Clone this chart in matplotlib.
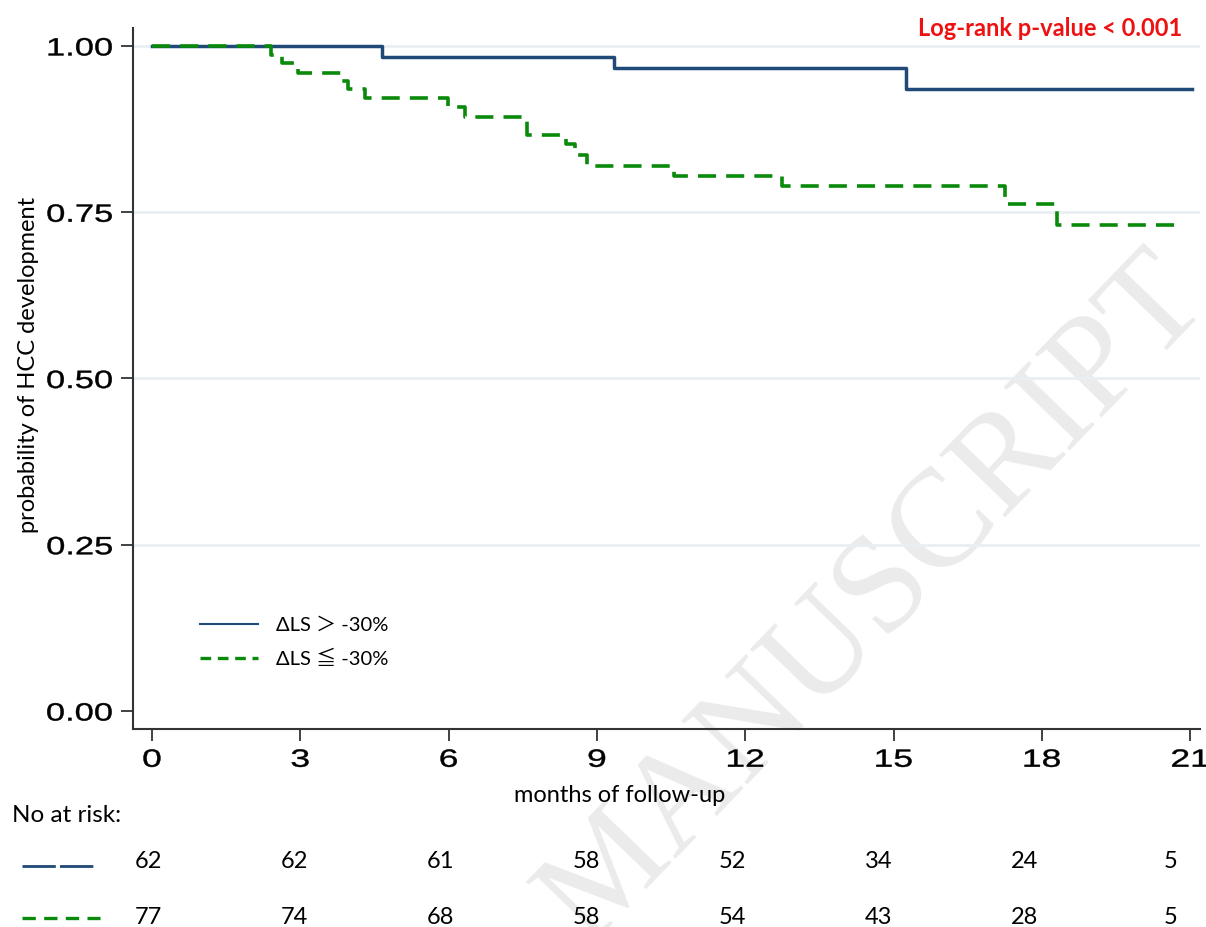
import matplotlib
matplotlib.use("Agg")
import matplotlib.pyplot as plt
import matplotlib.transforms as mtransforms
from matplotlib.lines import Line2D
from matplotlib.patheffects import AbstractPathEffect
from matplotlib.transforms import Affine2D

# ---- data ----
blue_times = [0, 4.65, 9.35, 15.25]
blue_surv = [1.0, 0.984, 0.967, 0.935]
blue_end = 21.03

green_times = [0, 2.40, 2.62, 2.96, 3.84, 3.97, 4.31, 5.99, 6.33, 7.59,
               8.37, 8.55, 8.80, 10.55, 12.74, 17.26, 18.30]
green_surv = [1.0, 0.987, 0.974, 0.960, 0.948, 0.935, 0.921, 0.908, 0.893,
              0.866, 0.852, 0.836, 0.820, 0.805, 0.789, 0.763, 0.731]
green_end = 20.73

x_ticks = [0, 3, 6, 9, 12, 15, 18, 21]
y_ticks = [0.00, 0.25, 0.50, 0.75, 1.00]
y_tick_labels = ["0.00", "0.25", "0.50", "0.75", "1.00"]
risk_blue = [62, 62, 61, 58, 52, 34, 24, 5]
risk_green = [77, 74, 68, 58, 54, 43, 28, 5]

label_blue = "ΔLS ＞ -30%"
label_green = "ΔLS ≦ -30%"

BLUE = "#1f4a78"
GREEN = "#0a8a0a"
FONT_C = ["Lato", "Noto Sans CJK SC", "DejaVu Sans"]


class StretchX(AbstractPathEffect):
    """Draw text horizontally widened about an anchor edge, slightly emboldened."""
    def __init__(self, sx, anchor="center", stroke=0.3):
        super().__init__()
        self.sx = sx
        self.anchor = anchor
        self.stroke = stroke

    def draw_path(self, renderer, gc, tpath, affine, rgbFace=None):
        ext = tpath.get_extents(affine)
        if self.anchor == "right":
            x0 = ext.x1
        elif self.anchor == "left":
            x0 = ext.x0
        else:
            x0 = 0.5 * (ext.x0 + ext.x1)
        a = affine + Affine2D().translate(-x0, 0).scale(self.sx, 1).translate(x0, 0)
        gc0 = renderer.new_gc()
        gc0.copy_properties(gc)
        if rgbFace is not None:
            gc0.set_foreground(rgbFace)
        gc0.set_linewidth(self.stroke)
        renderer.draw_path(gc0, tpath, a, rgbFace)
        gc0.restore()


fig = plt.figure(figsize=(12.06, 9.27), dpi=100)
fig.patch.set_facecolor("white")

# watermark (behind everything)
fig.text(875/1206, 1-600/927, "MANUSCRIPT", fontsize=100, family="Liberation Serif",
         color="#ebebeb", rotation=46, ha="center", va="center", zorder=-5)

ax = fig.add_axes([133/1206, 1-729/927, (1200-133)/1206, (729-28)/927])
ax.patch.set_visible(False)

# grid
for yv in y_ticks[1:]:
    ax.axhline(yv, color="#e8eff2", lw=2.0, zorder=1)

bx = blue_times + [blue_end]
by = blue_surv + [blue_surv[-1]]
gx = green_times + [green_end]
gy = green_surv + [green_surv[-1]]
ax.step(bx, by, where="post", color=BLUE, lw=2.5, zorder=3)
ax.step(gx, gy, where="post", color=GREEN, lw=2.6, ls=(0, (5, 2.8)), zorder=4)

ax.set_xlim(-0.384, 21.2)
ax.set_ylim(-0.027, 1.027)
ax.set_xticks(x_ticks)
ax.set_xticklabels([str(t) for t in x_ticks], fontsize=18, family="Liberation Sans")
ax.set_yticks(y_ticks)
ax.set_yticklabels(y_tick_labels, fontsize=18, family="Liberation Sans")
ax.tick_params(axis="both", direction="out", length=8.5, width=1.3, color="#333333")
ax.tick_params(axis="x", pad=5)
ax.tick_params(axis="y", pad=6)
for lab in ax.get_xticklabels():
    lab.set_path_effects([StretchX(1.42, "center")])
for lab in ax.get_yticklabels():
    lab.set_path_effects([StretchX(1.38, "right")])
for s in ["top", "right"]:
    ax.spines[s].set_visible(False)
for s in ["left", "bottom"]:
    ax.spines[s].set_color("#333333")
    ax.spines[s].set_linewidth(1.5)

ax.set_ylabel("probability of HCC development", fontsize=17, family=FONT_C)
ax.yaxis.set_label_coords(-0.088, 0.519)

# legend
handles = [Line2D([], [], color=BLUE, lw=1.5),
           Line2D([], [], color=GREEN, lw=2.4, ls=(0, (3.2, 2)))]
leg = ax.legend(handles, [label_blue, label_green], loc="upper left",
                bbox_to_anchor=(0.0628, 0.160), frameon=False, borderpad=0,
                borderaxespad=0, prop={"family": FONT_C, "size": 14.5},
                handlelength=2.9, handletextpad=0.85, labelspacing=0.78)

# p-value
fig.text(1182/1206, 1-28/927, "Log-rank p-value < 0.001", color="#ee1111",
         fontsize=17, fontweight="bold", family=FONT_C, ha="right", va="center")

# x label
fig.text(620/1206, 1-796/927, "months of follow-up", fontsize=17, family=FONT_C,
         ha="center", va="center")
fig.text(12/1206, 1-815/927, "No at risk:", fontsize=17.5, family=FONT_C,
         ha="left", va="center")

# risk table
trans = mtransforms.blended_transform_factory(ax.transData, fig.transFigure)
for t, nb, ng in zip(x_ticks, risk_blue, risk_green):
    xp = t * 0.985 - 0.08
    fig.text(xp, 1-862/927, str(nb), fontsize=17, family=FONT_C, ha="center",
             va="center", transform=trans)
    fig.text(xp, 1-917/927, str(ng), fontsize=17, family=FONT_C, ha="center",
             va="center", transform=trans)

fig.add_artist(Line2D([22/1206, 97/1206], [1-866/927]*2, color=BLUE, lw=2.0,
                      ls=(0, (12, 1.5)), transform=fig.transFigure))
fig.add_artist(Line2D([22/1206, 100/1206], [1-918/927]*2, color=GREEN, lw=2.4,
                      ls=(0, (4, 2.5)), transform=fig.transFigure))

fig.savefig("out.png", dpi=100)
